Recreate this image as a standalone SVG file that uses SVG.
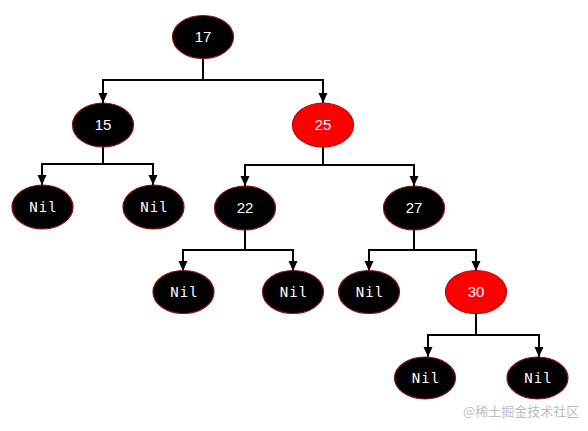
<svg xmlns="http://www.w3.org/2000/svg" width="588" height="431" viewBox="0 0 588 431">
<style>
.b{fill:#000;stroke:#8b1010;stroke-width:1.2}
.r{fill:#ff0000;stroke:#c00000;stroke-width:1.2}
.n{fill:#fff;font-family:"Liberation Sans",Arial,sans-serif;font-size:15px;text-anchor:middle}
.nil{fill:#fff;font-family:"DejaVu Sans Mono","Liberation Mono",monospace;font-size:14px;text-anchor:middle;letter-spacing:1px}
.c{fill:none;stroke:#000;stroke-width:2;marker-end:url(#a)}
.wm{fill:#bdbdbd;font-family:"Noto Sans CJK SC","Liberation Sans",sans-serif;font-size:13px}
</style>
<defs>
<marker id="a" viewBox="0 0 10 10" refX="10" refY="5" markerWidth="5" markerHeight="5" orient="auto" markerUnits="strokeWidth">
<path d="M0,0.5 L10,5 L0,9.5 z" fill="#000"/>
</marker>
</defs>
<g id="connectors">
<path class="c" d="M203,58 V80 H103 V103"/>
<path class="c" d="M203,80 H323 V103"/>
<path class="c" d="M103,147 V164 H42 V185"/>
<path class="c" d="M103,164 H153 V185"/>
<path class="c" d="M323,147 V165 H245 V186"/>
<path class="c" d="M323,165 H414 V186"/>
<path class="c" d="M245,230 V250 H183 V271"/>
<path class="c" d="M245,250 H293 V271"/>
<path class="c" d="M414,230 V250 H369 V271"/>
<path class="c" d="M414,250 H476 V271"/>
<path class="c" d="M476,313 V335 H428 V357"/>
<path class="c" d="M476,335 H539 V357"/>
</g>
<g id="n17"><ellipse class="b" cx="203" cy="37" rx="30.5" ry="21.5"/><text class="n" x="203" y="42">17</text></g>
<g id="n15"><ellipse class="b" cx="103" cy="125" rx="30.5" ry="22"/><text class="n" x="103" y="130">15</text></g>
<g id="n25"><ellipse class="r" cx="323" cy="125" rx="30.5" ry="22"/><text class="n" x="323" y="130">25</text></g>
<g id="nil1"><ellipse class="b" cx="42.5" cy="207" rx="30.5" ry="22"/><text class="nil" x="43.5" y="212">Nil</text></g>
<g id="nil2"><ellipse class="b" cx="153.5" cy="207" rx="30.5" ry="22"/><text class="nil" x="154.5" y="212">Nil</text></g>
<g id="n22"><ellipse class="b" cx="245" cy="208" rx="30.5" ry="22"/><text class="n" x="245" y="213">22</text></g>
<g id="n27"><ellipse class="b" cx="414" cy="208" rx="30.5" ry="22"/><text class="n" x="414" y="213">27</text></g>
<g id="nil3"><ellipse class="b" cx="183.5" cy="292" rx="30.5" ry="21.5"/><text class="nil" x="184.5" y="297">Nil</text></g>
<g id="nil4"><ellipse class="b" cx="293" cy="292" rx="30.5" ry="21.5"/><text class="nil" x="294" y="297">Nil</text></g>
<g id="nil5"><ellipse class="b" cx="369" cy="292" rx="30.5" ry="21.5"/><text class="nil" x="370" y="297">Nil</text></g>
<g id="n30"><ellipse class="r" cx="476" cy="292" rx="30.5" ry="21.5"/><text class="n" x="476" y="297">30</text></g>
<g id="nil6"><ellipse class="b" cx="425" cy="378" rx="30.5" ry="21"/><text class="nil" x="426" y="383">Nil</text></g>
<g id="nil7"><ellipse class="b" cx="537.5" cy="378" rx="30.5" ry="21"/><text class="nil" x="538.5" y="383">Nil</text></g>
<text class="wm" x="463" y="416">@稀土掘金技术社区</text>
</svg>
